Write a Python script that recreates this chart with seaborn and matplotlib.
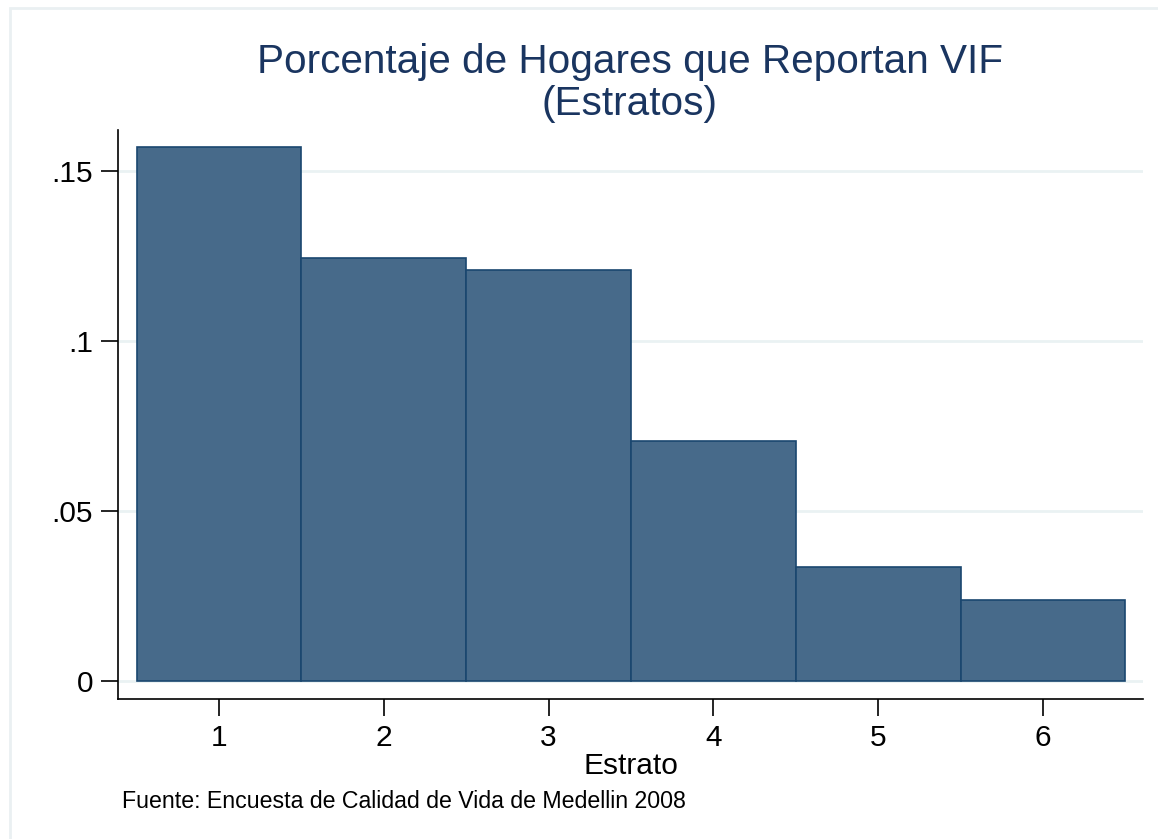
import matplotlib
matplotlib.use("Agg")
import matplotlib.pyplot as plt
import seaborn as sns
import pandas as pd
from matplotlib.patches import Rectangle

estratos = [1, 2, 3, 4, 5, 6]
porcentaje = [0.157, 0.1244, 0.1209, 0.0706, 0.0335, 0.0238]
ytick_vals = [0, 0.05, 0.1, 0.15]
ytick_labels = ["0", ".05", ".1", ".15"]

sns.set_theme(style="white")
plt.rcParams["font.family"] = ["Liberation Sans", "DejaVu Sans"]

df = pd.DataFrame({"Estrato": estratos, "p": porcentaje})

fig = plt.figure(figsize=(11.58, 8.39), dpi=100)
fig.patch.set_facecolor("white")
fig.add_artist(Rectangle((10 / 1158, -0.2), 1.2, 1.2 - 8 / 839, transform=fig.transFigure,
                         fill=False, edgecolor="#EAF0F2", linewidth=2))

ax = fig.add_axes([118 / 1158, 1 - 699 / 839, (1143 - 118) / 1158, (699 - 130) / 839])
sns.histplot(data=df, x="Estrato", weights="p", discrete=True, ax=ax,
             color="#476A8A", edgecolor="#1A476F", linewidth=1.2, alpha=1, zorder=3)

ax.set_xlim(0.387, 6.607)
ax.set_ylim(-0.0053, 0.162)
ax.set_yticks(ytick_vals)
ax.set_yticklabels(ytick_labels)
ax.set_xticks(estratos)
ax.set_xticklabels([str(e) for e in estratos])
for y in ytick_vals:
    ax.axhline(y, color="#EAF2F3", linewidth=2, zorder=1)

for s in ["top", "right"]:
    ax.spines[s].set_visible(False)
for s in ["left", "bottom"]:
    ax.spines[s].set_color("black")
    ax.spines[s].set_linewidth(1.2)
ax.tick_params(axis="both", which="major", direction="out", length=12, width=1.2,
               color="black", labelsize=21.5, labelcolor="black", pad=6,
               left=True, bottom=True)
ax.set_xlabel("Estrato", fontsize=21.5, color="black", labelpad=0)
ax.set_ylabel("")

fig.text(630 / 1158, 1 - 62 / 839, "Porcentaje de Hogares que Reportan VIF",
         ha="center", va="center", fontsize=29.2, color="#1A3560")
fig.text(630 / 1158, 1 - 104 / 839, "(Estratos)",
         ha="center", va="center", fontsize=29.2, color="#1A3560")
fig.text(122 / 1158, 1 - 801 / 839, "Fuente: Encuesta de Calidad de Vida de Medellin 2008",
         ha="left", va="center", fontsize=16.7, color="black")

fig.savefig("out.png", dpi=100)
